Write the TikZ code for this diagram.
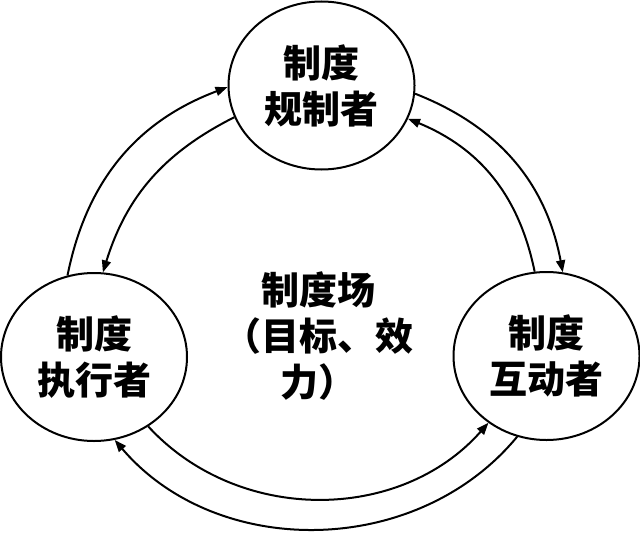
\documentclass[tikz,border=0pt]{standalone}
\usepackage{fontspec}
\newfontfamily\cjk{Noto Sans CJK SC}
\usetikzlibrary{arrows.meta,shapes.geometric}
\begin{document}
\begin{tikzpicture}[x=0.5pt,y=-0.5pt,
  actor/.style={ellipse,draw,line width=1pt,minimum width=93pt,minimum height=84pt,inner sep=0pt,align=center,
    font=\cjk\bfseries\fontsize{19pt}{23pt}\selectfont},
  fieldtext/.style={align=center,inner sep=0pt,font=\cjk\bfseries\fontsize{19pt}{23pt}\selectfont},
  arr/.style={line width=1pt,-{Triangle[length=6pt,width=4.5pt]}}]
\useasboundingbox (0,0) rectangle (640,534);
\node[actor] (T) at (321.5,85.5) {制度\\规制者};
\node[actor] (L) at (94,357) {制度\\执行者};
\node[actor] (R) at (546.5,356) {制度\\互动者};
\node[fieldtext] (C) at (318,336) {制度场\\（目标、效\\力）};
\draw[arr] (L.108) to[bend left=29] (T.181.5);
\draw[arr] (T.200) to[bend right=23] (L.84);
\draw[arr] (T.355.5) to[bend left=29] (R.79);
\draw[arr] (R.98.5) to[bend right=28] (T.339.5);
\draw[arr] (L.308.5) to[bend right=48] (R.229.7);
\draw[arr] (R.250.8) to[bend left=50] (L.284);
\end{tikzpicture}
\end{document}
